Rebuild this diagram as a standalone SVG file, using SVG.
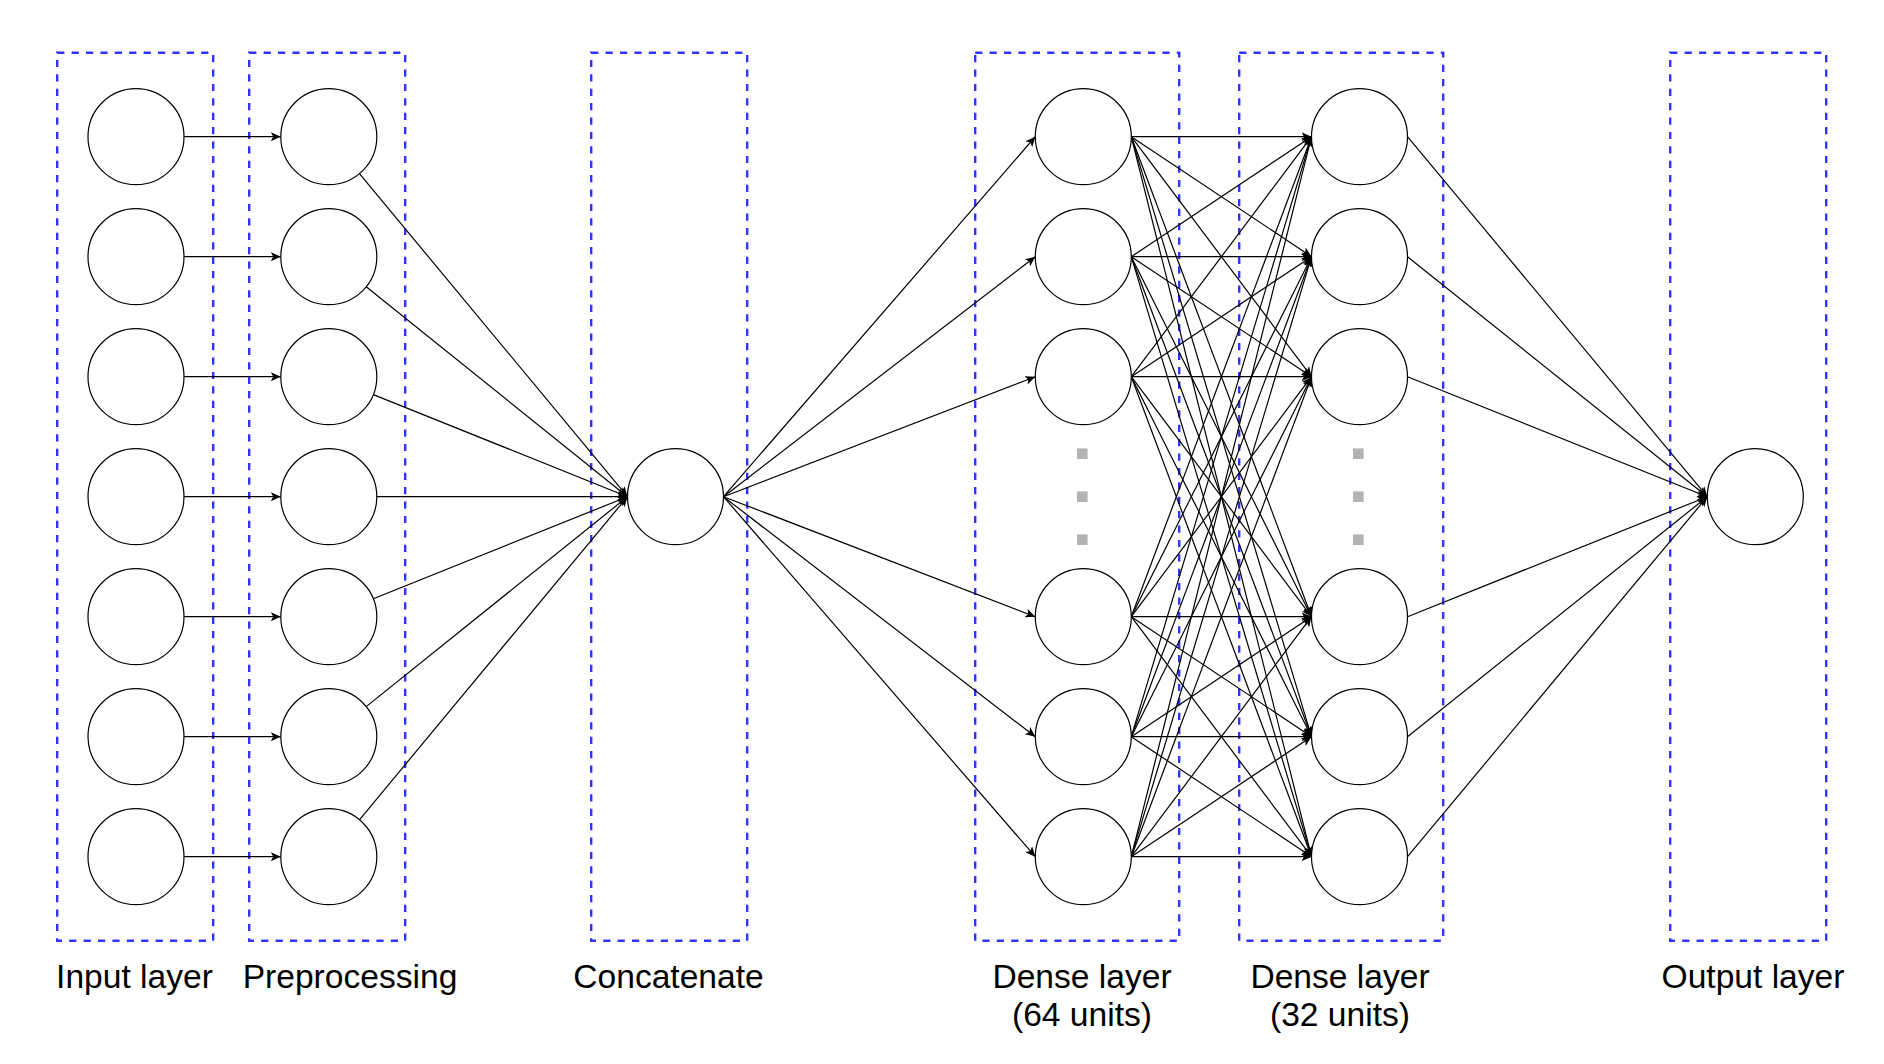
<svg xmlns="http://www.w3.org/2000/svg" width="1884" height="1064" viewBox="0 0 1884 1064">
<defs>
<style>
.box{fill:none;stroke:#3333ff;stroke-width:2.4;stroke-dasharray:7.2 7.2}
.n{fill:#ffffff;stroke:#000000;stroke-width:1.2}
.lbl{font-family:"Liberation Sans",Arial,Helvetica,sans-serif;font-size:33.6px;fill:#000000;text-anchor:middle}
.dot{fill:#b3b3b3}
#edges line{stroke:#000000;stroke-width:1.2;fill:none;marker-end:url(#arr)}
</style>
<marker id="arr" markerUnits="userSpaceOnUse" markerWidth="10" markerHeight="9" viewBox="0 0 10 9" refX="10" refY="4.5" orient="auto">
<path d="M0,0 L10,4.5 L0,9 L2.5,4.5 Z" fill="#000000"/>
</marker>
</defs>
<rect width="1884" height="1064" fill="#ffffff"/>

<g id="layer-input"><rect class="box" x="57.2" y="52.7" width="156" height="888"/><text class="lbl" x="134.5" y="988">Input layer</text></g>
<g id="layer-preprocessing"><rect class="box" x="249.2" y="52.7" width="156" height="888"/><text class="lbl" x="350" y="988">Preprocessing</text></g>
<g id="layer-concatenate"><rect class="box" x="591.2" y="52.7" width="156" height="888"/><text class="lbl" x="668.5" y="988">Concatenate</text></g>
<g id="layer-dense64"><rect class="box" x="975.2" y="52.7" width="204" height="888"/><text class="lbl" x="1082" y="988">Dense layer</text><text class="lbl" x="1082" y="1026">(64 units)</text></g>
<g id="layer-dense32"><rect class="box" x="1239.2" y="52.7" width="204" height="888"/><text class="lbl" x="1340" y="988">Dense layer</text><text class="lbl" x="1340" y="1026">(32 units)</text></g>
<g id="layer-output"><rect class="box" x="1670.2" y="52.7" width="156" height="888"/><text class="lbl" x="1753" y="988">Output layer</text></g>

<g id="edges">
<line x1="184" y1="136.7" x2="280.8" y2="136.7"/>
<line x1="184" y1="256.7" x2="280.8" y2="256.7"/>
<line x1="184" y1="376.7" x2="280.8" y2="376.7"/>
<line x1="184" y1="496.7" x2="280.8" y2="496.7"/>
<line x1="184" y1="616.7" x2="280.8" y2="616.7"/>
<line x1="184" y1="736.7" x2="280.8" y2="736.7"/>
<line x1="184" y1="856.7" x2="280.8" y2="856.7"/>

<line x1="359.45" y1="173.64" x2="627.5" y2="496.7"/>
<line x1="366.22" y1="286.76" x2="627.5" y2="496.7"/>
<line x1="373.34" y1="394.59" x2="627.5" y2="496.7"/>
<line x1="376.8" y1="496.7" x2="627.5" y2="496.7"/>
<line x1="373.34" y1="598.81" x2="627.5" y2="496.7"/>
<line x1="366.22" y1="706.64" x2="627.5" y2="496.7"/>
<line x1="359.45" y1="819.76" x2="627.5" y2="496.7"/>

<line x1="723.5" y1="496.7" x2="1035.3" y2="136.7"/>
<line x1="723.5" y1="496.7" x2="1035.3" y2="256.7"/>
<line x1="723.5" y1="496.7" x2="1035.3" y2="376.7"/>
<line x1="723.5" y1="496.7" x2="1035.3" y2="616.7"/>
<line x1="723.5" y1="496.7" x2="1035.3" y2="736.7"/>
<line x1="723.5" y1="496.7" x2="1035.3" y2="856.7"/>

<line x1="1131.3" y1="136.7" x2="1311.5" y2="136.7"/>
<line x1="1131.3" y1="136.7" x2="1311.5" y2="256.7"/>
<line x1="1131.3" y1="136.7" x2="1311.5" y2="376.7"/>
<line x1="1131.3" y1="136.7" x2="1311.5" y2="616.7"/>
<line x1="1131.3" y1="136.7" x2="1311.5" y2="736.7"/>
<line x1="1131.3" y1="136.7" x2="1311.5" y2="856.7"/>
<line x1="1131.3" y1="256.7" x2="1311.5" y2="136.7"/>
<line x1="1131.3" y1="256.7" x2="1311.5" y2="256.7"/>
<line x1="1131.3" y1="256.7" x2="1311.5" y2="376.7"/>
<line x1="1131.3" y1="256.7" x2="1311.5" y2="616.7"/>
<line x1="1131.3" y1="256.7" x2="1311.5" y2="736.7"/>
<line x1="1131.3" y1="256.7" x2="1311.5" y2="856.7"/>
<line x1="1131.3" y1="376.7" x2="1311.5" y2="136.7"/>
<line x1="1131.3" y1="376.7" x2="1311.5" y2="256.7"/>
<line x1="1131.3" y1="376.7" x2="1311.5" y2="376.7"/>
<line x1="1131.3" y1="376.7" x2="1311.5" y2="616.7"/>
<line x1="1131.3" y1="376.7" x2="1311.5" y2="736.7"/>
<line x1="1131.3" y1="376.7" x2="1311.5" y2="856.7"/>
<line x1="1131.3" y1="616.7" x2="1311.5" y2="136.7"/>
<line x1="1131.3" y1="616.7" x2="1311.5" y2="256.7"/>
<line x1="1131.3" y1="616.7" x2="1311.5" y2="376.7"/>
<line x1="1131.3" y1="616.7" x2="1311.5" y2="616.7"/>
<line x1="1131.3" y1="616.7" x2="1311.5" y2="736.7"/>
<line x1="1131.3" y1="616.7" x2="1311.5" y2="856.7"/>
<line x1="1131.3" y1="736.7" x2="1311.5" y2="136.7"/>
<line x1="1131.3" y1="736.7" x2="1311.5" y2="256.7"/>
<line x1="1131.3" y1="736.7" x2="1311.5" y2="376.7"/>
<line x1="1131.3" y1="736.7" x2="1311.5" y2="616.7"/>
<line x1="1131.3" y1="736.7" x2="1311.5" y2="736.7"/>
<line x1="1131.3" y1="736.7" x2="1311.5" y2="856.7"/>
<line x1="1131.3" y1="856.7" x2="1311.5" y2="136.7"/>
<line x1="1131.3" y1="856.7" x2="1311.5" y2="256.7"/>
<line x1="1131.3" y1="856.7" x2="1311.5" y2="376.7"/>
<line x1="1131.3" y1="856.7" x2="1311.5" y2="616.7"/>
<line x1="1131.3" y1="856.7" x2="1311.5" y2="736.7"/>
<line x1="1131.3" y1="856.7" x2="1311.5" y2="856.7"/>

<line x1="1407.5" y1="136.7" x2="1707.3" y2="496.7"/>
<line x1="1407.5" y1="256.7" x2="1707.3" y2="496.7"/>
<line x1="1407.5" y1="376.7" x2="1707.3" y2="496.7"/>
<line x1="1407.5" y1="616.7" x2="1707.3" y2="496.7"/>
<line x1="1407.5" y1="736.7" x2="1707.3" y2="496.7"/>
<line x1="1407.5" y1="856.7" x2="1707.3" y2="496.7"/>
</g>

<g id="in1"><circle class="n" cx="136" cy="136.7" r="48"/></g>
<g id="in2"><circle class="n" cx="136" cy="256.7" r="48"/></g>
<g id="in3"><circle class="n" cx="136" cy="376.7" r="48"/></g>
<g id="in4"><circle class="n" cx="136" cy="496.7" r="48"/></g>
<g id="in5"><circle class="n" cx="136" cy="616.7" r="48"/></g>
<g id="in6"><circle class="n" cx="136" cy="736.7" r="48"/></g>
<g id="in7"><circle class="n" cx="136" cy="856.7" r="48"/></g>

<g id="pre1"><circle class="n" cx="328.8" cy="136.7" r="48"/></g>
<g id="pre2"><circle class="n" cx="328.8" cy="256.7" r="48"/></g>
<g id="pre3"><circle class="n" cx="328.8" cy="376.7" r="48"/></g>
<g id="pre4"><circle class="n" cx="328.8" cy="496.7" r="48"/></g>
<g id="pre5"><circle class="n" cx="328.8" cy="616.7" r="48"/></g>
<g id="pre6"><circle class="n" cx="328.8" cy="736.7" r="48"/></g>
<g id="pre7"><circle class="n" cx="328.8" cy="856.7" r="48"/></g>

<g id="concat"><circle class="n" cx="675.5" cy="496.7" r="48"/></g>

<g id="d64_1"><circle class="n" cx="1083.3" cy="136.7" r="48"/></g>
<g id="d64_2"><circle class="n" cx="1083.3" cy="256.7" r="48"/></g>
<g id="d64_3"><circle class="n" cx="1083.3" cy="376.7" r="48"/></g>
<g id="d64_4"><circle class="n" cx="1083.3" cy="616.7" r="48"/></g>
<g id="d64_5"><circle class="n" cx="1083.3" cy="736.7" r="48"/></g>
<g id="d64_6"><circle class="n" cx="1083.3" cy="856.7" r="48"/></g>
<g id="d64_dots"><rect class="dot" x="1077" y="448.4" width="10.6" height="10.6"/><rect class="dot" x="1077" y="491.4" width="10.6" height="10.6"/><rect class="dot" x="1077" y="534.4" width="10.6" height="10.6"/></g>

<g id="d32_1"><circle class="n" cx="1359.5" cy="136.7" r="48"/></g>
<g id="d32_2"><circle class="n" cx="1359.5" cy="256.7" r="48"/></g>
<g id="d32_3"><circle class="n" cx="1359.5" cy="376.7" r="48"/></g>
<g id="d32_4"><circle class="n" cx="1359.5" cy="616.7" r="48"/></g>
<g id="d32_5"><circle class="n" cx="1359.5" cy="736.7" r="48"/></g>
<g id="d32_6"><circle class="n" cx="1359.5" cy="856.7" r="48"/></g>
<g id="d32_dots"><rect class="dot" x="1353" y="448.4" width="10.6" height="10.6"/><rect class="dot" x="1353" y="491.4" width="10.6" height="10.6"/><rect class="dot" x="1353" y="534.4" width="10.6" height="10.6"/></g>

<g id="out"><circle class="n" cx="1755.3" cy="496.7" r="48"/></g>
</svg>
